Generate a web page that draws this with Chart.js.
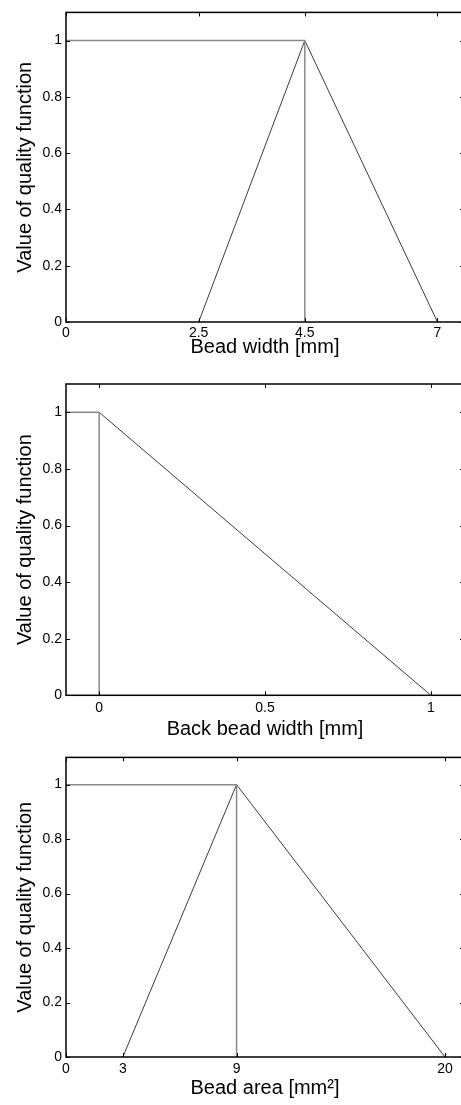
<!DOCTYPE html>
<html>
<head>
<meta charset="utf-8">
<script src="https://cdn.jsdelivr.net/npm/chart.js@4"></script>
<style>
  html, body { margin: 0; padding: 0; background: #fff; overflow: hidden; width: 461px; height: 1105px; }
  .panel { position: absolute; left: 0; width: 470px; }
  canvas { display: block; }
</style>
</head>
<body>
<div class="panel" id="p1" style="top:0px;height:360px"><canvas id="c1" width="470" height="360"></canvas></div>
<div class="panel" id="p2" style="top:360px;height:385px"><canvas id="c2" width="470" height="385"></canvas></div>
<div class="panel" id="p3" style="top:745px;height:360px"><canvas id="c3" width="470" height="360"></canvas></div>
<script>
// ---------- data ----------
const yTicks = [0, 0.2, 0.4, 0.6, 0.8, 1];
const yLabel = 'Value of quality function';

// Panel 1: bead width
const bwXTicks = [0, 2.5, 4.5, 7];
const bwFlat = [[0, 1], [4.5, 1]];
const bwTriangle = [[2.5, 0], [4.5, 1], [7, 0]];
const bwOptimum = [[4.5, 0], [4.5, 1]];
const bwTitle = 'Bead width [mm]';

// Panel 2: back bead width
const bbXTicks = [0, 0.5, 1];
const bbFlat = [[-0.1, 1], [0, 1]];
const bbSlope = [[0, 1], [1, 0]];
const bbOptimum = [[0, 0], [0, 1]];
const bbTitle = 'Back bead width [mm]';

// Panel 3: bead area
const baXTicks = [0, 3, 9, 20];
const baFlat = [[0, 1], [9, 1]];
const baTriangle = [[3, 0], [9, 1], [20, 0]];
const baOptimum = [[9, 0], [9, 1]];
const baTitle = 'Bead area [mm\u00B2]';

// ---------- helpers ----------
const FONT = '"Liberation Sans", Arial, Helvetica, sans-serif';
const GRAY = '#888888';
const DARK = '#3c3c3c';

function pts(arr) { return arr.map(p => ({ x: p[0], y: p[1] })); }
function fmt(v) { return String(Math.round(v * 100) / 100); }

const boxTicks = {
  id: 'boxTicks',
  afterDatasetsDraw(chart) {
    const { ctx, chartArea: a, scales: { x, y } } = chart;
    const L = 4;
    ctx.save();
    ctx.strokeStyle = '#000';
    ctx.lineWidth = 1;
    ctx.beginPath();
    x.ticks.forEach(t => {
      const px = Math.round(x.getPixelForValue(t.value)) + 0.5;
      ctx.moveTo(px, a.bottom); ctx.lineTo(px, a.bottom - L);
      ctx.moveTo(px, a.top); ctx.lineTo(px, a.top + L);
    });
    y.ticks.forEach(t => {
      const py = Math.round(y.getPixelForValue(t.value)) + 0.5;
      ctx.moveTo(a.left, py); ctx.lineTo(a.left + L, py);
      ctx.moveTo(a.right, py); ctx.lineTo(a.right - L, py);
    });
    ctx.stroke();
    ctx.lineWidth = 1.5;
    ctx.strokeRect(a.left, a.top, a.right - a.left, a.bottom - a.top);
    ctx.restore();
  }
};

function makeChart(id, cfg) {
  const datasets = [
    { data: pts(cfg.flat), borderColor: GRAY, borderWidth: 1.5 },
    { data: pts(cfg.optimum), borderColor: GRAY, borderWidth: 1.5 },
    { data: pts(cfg.shape), borderColor: DARK, borderWidth: 1 }
  ].map(d => Object.assign(d, { showLine: true, pointRadius: 0, fill: false, tension: 0 }));

  return new Chart(document.getElementById(id), {
    type: 'scatter',
    data: { datasets },
    options: {
      responsive: false,
      animation: false,
      events: [],
      layout: { padding: { top: cfg.top, right: 6, bottom: 0, left: 0 } },
      plugins: { legend: { display: false }, tooltip: { enabled: false } },
      scales: {
        x: {
          type: 'linear',
          min: cfg.xmin, max: cfg.xmax,
          grid: { display: false, drawTicks: false },
          border: { display: false },
          afterBuildTicks: s => { s.ticks = cfg.xTicks.map(v => ({ value: v })); },
          afterFit: s => { s.height = cfg.xh; },
          ticks: {
            autoSkip: false, maxRotation: 0, padding: cfg.tickPad,
            color: '#000', font: { family: FONT, size: 14 },
            callback: v => fmt(v)
          },
          title: {
            display: true, text: cfg.title, color: '#000',
            font: { family: FONT, size: 20 },
            padding: { top: 0, bottom: cfg.tpad }
          }
        },
        y: {
          type: 'linear',
          min: 0, max: 1.1,
          grid: { display: false, drawTicks: false },
          border: { display: false },
          afterBuildTicks: s => { s.ticks = yTicks.map(v => ({ value: v })); },
          afterFit: s => { s.width = 66; },
          ticks: {
            autoSkip: false, padding: 4,
            color: '#000', font: { family: FONT, size: 14 },
            callback: v => fmt(v)
          },
          title: {
            display: true, text: yLabel, color: '#000',
            font: { family: FONT, size: 20 },
            padding: { top: 13, bottom: 0 }
          }
        }
      }
    },
    plugins: [boxTicks]
  });
}

makeChart('c1', { flat: bwFlat, optimum: bwOptimum, shape: bwTriangle, xTicks: bwXTicks,
  xmin: 0, xmax: 7.5, title: bwTitle, top: 11, xh: 38, tpad: 1, tickPad: 3 });
makeChart('c2', { flat: bbFlat, optimum: bbOptimum, shape: bbSlope, xTicks: bbXTicks,
  xmin: -0.1, xmax: 1.1, title: bbTitle, top: 24, xh: 49.7, tpad: 4, tickPad: 4 });
makeChart('c3', { flat: baFlat, optimum: baOptimum, shape: baTriangle, xTicks: baXTicks,
  xmin: 0, xmax: 21, title: baTitle, top: 6, xh: 48, tpad: 5, tickPad: 4 });
</script>
</body>
</html>
